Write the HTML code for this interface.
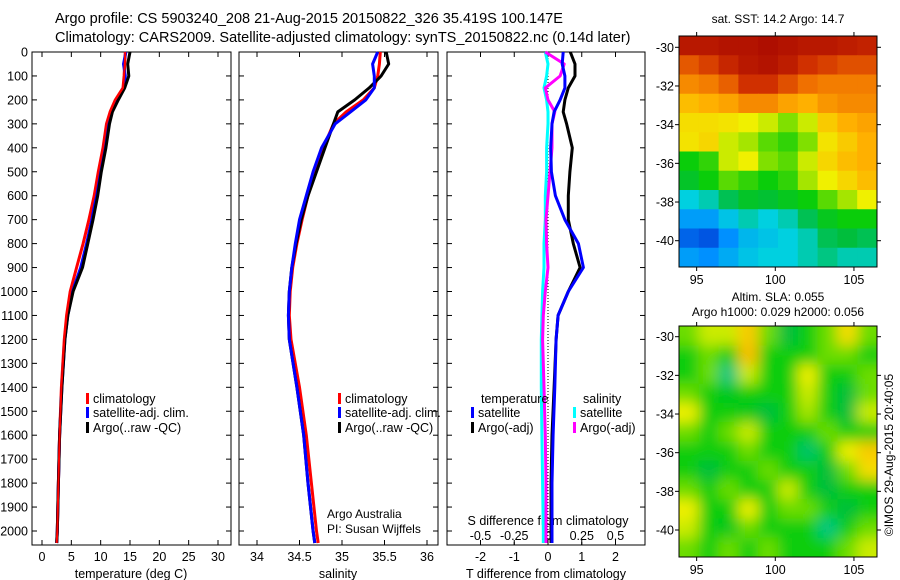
<!DOCTYPE html>
<html><head><meta charset="utf-8"><style>
body{margin:0;background:#fff;}
svg{display:block;font-family:"Liberation Sans",sans-serif;}
</style></head><body>
<svg id="fig" width="900" height="580" viewBox="0 0 900 580" xmlns="http://www.w3.org/2000/svg">
<text x="55" y="23" font-size="14.5">Argo profile: CS 5903240_208 21-Aug-2015 20150822_326 35.419S 100.147E</text>
<text x="55" y="42" font-size="14.5">Climatology: CARS2009. Satellite-adjusted climatology: synTS_20150822.nc (0.14d later)</text>
<text x="778" y="23" font-size="12" text-anchor="middle">sat. SST: 14.2 Argo: 14.7</text>
<text x="778" y="301" font-size="12" text-anchor="middle">Altim. SLA: 0.055</text>
<text x="778" y="316" font-size="12" text-anchor="middle">Argo h1000: 0.029 h2000: 0.056</text>
<text transform="translate(893,455) rotate(-90)" font-size="12" text-anchor="middle">©IMOS 29-Aug-2015 20:40:05</text>
<g id="g"></g>
</svg>
<script>
// ---- data ----
const depths = [0,50,100,150,200,250,300,400,500,600,700,800,900,1000,1100,1200,1400,1600,1800,2000,2050];
const tClim  = [14.2,14.1,14.0,13.8,12.5,11.6,11.0,10.4,9.6,8.9,8.0,7.0,5.9,4.8,4.2,3.8,3.3,3.0,2.8,2.6,2.5];
const tSat   = [14.3,13.9,14.2,13.9,12.8,11.8,11.1,10.5,9.8,9.2,8.5,7.6,6.6,5.2,4.4,3.9,3.4,3.0,2.8,2.6,2.5];
const tArgo  = [15.0,14.6,14.8,14.1,13.0,12.0,11.5,10.9,10.1,9.5,8.7,7.8,6.9,5.3,4.4,3.9,3.4,3.0,2.8,2.6,2.5];
const sClim  = [35.45,35.44,35.42,35.38,35.25,35.05,34.9,34.78,34.68,34.6,34.53,34.47,34.42,34.39,34.38,34.4,34.5,34.58,34.64,34.7,34.72];
const sSat   = [35.42,35.36,35.38,35.38,35.28,35.1,34.92,34.76,34.66,34.58,34.5,34.45,34.41,34.38,34.37,34.38,34.47,34.55,34.6,34.66,34.68];
const sArgo  = [35.52,35.55,35.46,35.32,35.15,34.95,34.9,34.8,34.7,34.6,34.52,34.46,34.41,34.38,34.37,34.38,34.47,34.55,34.6,34.66,34.68];
const dTSat  = [0.45,0.42,0.5,0.5,0.36,0.18,0.12,0.08,0.1,0.22,0.5,0.9,1.05,0.6,0.3,0.24,0.2,0.15,0.12,0.12,0.12];
const dTArgo = [0.66,0.8,0.8,0.6,0.5,0.45,0.55,0.72,0.65,0.6,0.6,0.75,0.95,0.6,0.3,0.24,0.18,0.12,0.09,0.09,0.09];
const dSSat  = [-0.02,0.0,-0.01,-0.03,-0.01,0.0,0.0,-0.01,-0.01,-0.02,-0.02,-0.03,-0.03,-0.04,-0.045,-0.05,-0.05,-0.045,-0.04,-0.035,-0.035];
const dSArgo = [-0.02,0.12,0.09,-0.02,0.0,0.05,0.03,0.03,0.015,0.0,-0.015,-0.01,0.0,-0.02,-0.035,-0.04,-0.03,-0.02,-0.015,-0.015,-0.015];
const depthTicks = [0,100,200,300,400,500,600,700,800,900,1000,1100,1200,1300,1400,1500,1600,1700,1800,1900,2000];
const tTicks = [0,5,10,15,20,25,30];
const sTicks = [34,34.5,35,35.5,36];
const dTTicks = [-2,-1,0,1,2];
const dSTicks = [-0.5,-0.25,0,0.25,0.5];
const dSTickLabels = ["-0.5","-0.25","0","0.25","0.5"];
const latTicks = [-30,-32,-34,-36,-38,-40];
const lonTicks = [95,100,105];
const sstGrid = [
[0.95,0.95,0.96,0.96,0.97,0.96,0.95,0.95,0.94,0.93],
[0.85,0.88,0.92,0.95,0.96,0.94,0.9,0.88,0.86,0.86],
[0.78,0.8,0.84,0.9,0.9,0.86,0.82,0.8,0.8,0.8],
[0.7,0.72,0.74,0.78,0.78,0.74,0.72,0.76,0.78,0.78],
[0.65,0.65,0.64,0.62,0.6,0.56,0.6,0.68,0.72,0.74],
[0.64,0.66,0.6,0.58,0.54,0.52,0.56,0.64,0.68,0.72],
[0.5,0.52,0.6,0.62,0.56,0.54,0.6,0.66,0.7,0.72],
[0.47,0.5,0.54,0.52,0.5,0.52,0.58,0.62,0.66,0.7],
[0.38,0.4,0.44,0.47,0.46,0.48,0.5,0.54,0.58,0.62],
[0.3,0.3,0.36,0.4,0.38,0.4,0.44,0.48,0.5,0.5],
[0.22,0.2,0.28,0.34,0.36,0.38,0.4,0.44,0.45,0.44],
[0.3,0.28,0.32,0.36,0.38,0.38,0.4,0.42,0.4,0.4]];
const slaGrid = [
[0.55,0.6,0.6,0.68,0.55,0.45,0.5,0.55,0.65,0.55],
[0.5,0.55,0.5,0.7,0.5,0.5,0.5,0.55,0.55,0.5],
[0.5,0.55,0.42,0.6,0.5,0.5,0.62,0.5,0.5,0.55],
[0.55,0.5,0.48,0.5,0.5,0.5,0.6,0.5,0.45,0.55],
[0.62,0.5,0.5,0.48,0.45,0.5,0.58,0.5,0.45,0.6],
[0.55,0.5,0.55,0.6,0.5,0.5,0.5,0.55,0.5,0.5],
[0.5,0.5,0.5,0.55,0.5,0.5,0.43,0.5,0.62,0.68],
[0.5,0.45,0.5,0.5,0.55,0.5,0.5,0.45,0.55,0.65],
[0.55,0.5,0.55,0.5,0.5,0.6,0.5,0.45,0.5,0.5],
[0.62,0.5,0.5,0.62,0.5,0.55,0.55,0.5,0.45,0.5],
[0.6,0.5,0.48,0.55,0.5,0.5,0.5,0.42,0.5,0.55],
[0.55,0.5,0.55,0.5,0.55,0.5,0.5,0.5,0.55,0.6]];

// ---- helpers ----
const NS="http://www.w3.org/2000/svg";
const G=document.getElementById('g');
function mk(tag,at,parent){const e=document.createElementNS(NS,tag);for(const k in at)e.setAttribute(k,at[k]);(parent||G).appendChild(e);return e;}
const Y0=52, YS=(531-52)/2000, PT=52, PB=545;
const yD=d=>Y0+d*YS;
const xT=v=>42+v*(218-42)/30;
const xS=v=>257+(v-34)*(427-257)/2;
const xDT=v=>548+v*(614-479)/4;
const xDS=v=>548+v*(614-479)/1;
const panels=[{x0:32,x1:231,name:'temperature-panel'},{x0:239,x1:438,name:'salinity-panel'},{x0:447,x1:645,name:'difference-panel'}];

function frame(p,labels){
  const r=mk('rect',{x:p.x0,y:PT,width:p.x1-p.x0,height:PB-PT,fill:'#fff',stroke:'#000','stroke-width':1});
  
  
  depthTicks.forEach(d=>{
    const y=yD(d);
    mk('line',{x1:p.x0,x2:p.x0+5,y1:y,y2:y,stroke:'#000'});
    mk('line',{x1:p.x1,x2:p.x1-5,y1:y,y2:y,stroke:'#000'});
    if(labels){const t=mk('text',{x:p.x0-4,y:y+4.5,'font-size':12.5,'text-anchor':'end'});t.textContent=d;
      
      }
  });
}
function xticks(ticks,fx,labs,yLab,top){
  ticks.forEach((v,i)=>{const x=fx(v);
    if(!top){mk('line',{x1:x,x2:x,y1:PB,y2:PB-5,stroke:'#000'});mk('line',{x1:x,x2:x,y1:PT,y2:PT+5,stroke:'#000'});}
    const t=mk('text',{x:x,y:yLab,'font-size':12.5,'text-anchor':'middle'});t.textContent=labs?labs[i]:v;
    
    });
}
function line(xs,fx,color,name,w){
  const pts=depths.map((d,i)=>fx(xs[i]).toFixed(1)+','+yD(d).toFixed(1)).join(' ');
  const l=mk('polyline',{points:pts,fill:'none',stroke:color,'stroke-width':w||3,'stroke-linejoin':'round'});
  
  
}
function text(x,y,s,name,size,anchor){const t=mk('text',{x:x,y:y,'font-size':size||12.5,'text-anchor':anchor||'start'});t.textContent=s;
  
  return t;}
function legend(x,y,color,label){mk('rect',{x:x,y:y-10,width:3,height:11,fill:color});
  const t=text(x+7,y,label,'legend-entry',12.5);}

frame(panels[0],true);frame(panels[1],false);frame(panels[2],false);
xticks(tTicks,xT,null,561);xticks(sTicks,xS,null,561);xticks(dTTicks,xDT,null,561);
dSTicks.forEach(v=>{const x=xDS(v);mk('line',{x1:x,x2:x,y1:PB,y2:PB-3,stroke:'#000'});});
xticks(dSTicks,xDS,dSTickLabels,540,true);
text(131,578,'temperature (deg C)','x-axis-title-temperature',12.5,'middle');
text(338,578,'salinity','x-axis-title-salinity',12.5,'middle');
text(546,578,'T difference from climatology','x-axis-title-t-diff',12.5,'middle');
text(548,525,'S difference from climatology','s-diff-axis-title',12.5,'middle');
text(327,518,'Argo Australia','institution-label',12);
text(327,533,'PI: Susan Wijffels','pi-label',12);

// zero dotted line
mk('line',{x1:548,x2:548,y1:PT,y2:PB,stroke:'#000','stroke-dasharray':'1,2'});

line(tClim,xT,'#f00','temperature-climatology-line');
line(tSat,xT,'#00f','temperature-satellite-line');
line(tArgo,xT,'#000','temperature-argo-line');
line(tClim,xT,'#f00','temperature-climatology-line',2);
line(sClim,xS,'#f00','salinity-climatology-line');
line(sArgo,xS,'#000','salinity-argo-line');
line(sSat,xS,'#00f','salinity-satellite-line');
line(dSSat,xDS,'#0ff','s-diff-satellite-line');
line(dSArgo,xDS,'#f0f','s-diff-argo-line');
line(dTArgo,xDT,'#000','t-diff-argo-line');
line(dTSat,xDT,'#00f','t-diff-satellite-line');

legend(86,403,'#f00','climatology');legend(86,417,'#00f','satellite-adj. clim.');legend(86,432,'#000','Argo(..raw -QC)');
legend(338,403,'#f00','climatology');legend(338,417,'#00f','satellite-adj. clim.');legend(338,432,'#000','Argo(..raw -QC)');
text(481,403,'temperature','legend-title-temperature',12.5);
text(583,403,'salinity','legend-title-salinity',12.5);
legend(471,417,'#00f','satellite');legend(471,432,'#000','Argo(-adj)');
legend(573,417,'#0ff','satellite');legend(573,432,'#f0f','Argo(-adj)');

// ---- maps ----
const stops=[[0,[0,0,128]],[0.15,[0,48,208]],[0.28,[0,144,255]],[0.38,[0,208,224]],[0.45,[0,190,60]],[0.5,[10,205,10]],[0.56,[128,224,0]],[0.62,[240,240,0]],[0.72,[255,176,0]],[0.82,[240,112,0]],[0.9,[208,48,0]],[1,[160,0,0]]];
function cmap(v){for(let i=1;i<stops.length;i++){if(v<=stops[i][0]){const a=stops[i-1],b=stops[i],f=(v-a[0])/(b[0]-a[0]);
  const c=a[1].map((q,k)=>Math.round(q+(b[1][k]-q)*f));return 'rgb('+c.join(',')+')';}}return 'rgb(160,0,0)';}
const MX0=679,MX1=877;
const lonX=l=>775.3+(l-100)*(854-696.7)/10;
function drawMap(grid,y0,y1,lat30,lat40,name,blur){
  const latY=la=>lat30+(la+30)*(lat40-lat30)/(-10);
  const defsId=name+'-clip';
  const defs=mk('defs',{});
  const cp=mk('clipPath',{id:defsId},defs);mk('rect',{x:MX0,y:y0,width:MX1-MX0,height:y1-y0},cp);
  if(blur){const f=mk('filter',{id:name+'-blur',x:'-10%',y:'-10%',width:'120%',height:'120%'},defs);mk('feGaussianBlur',{stdDeviation:7},f);}
  const g=mk('g',{'clip-path':'url(#'+defsId+')'});
  const inner=mk('g',blur?{filter:'url(#'+name+'-blur)'}:{},g);
  
  
  const rows=grid.length,cols=grid[0].length,cw=(MX1-MX0)/cols,ch=(y1-y0)/rows;
  mk('rect',{x:MX0-20,y:y0-20,width:MX1-MX0+40,height:y1-y0+40,fill:cmap(0.5)},inner);
  grid.forEach((row,r)=>row.forEach((v,c)=>{
    const ex=blur?(c==0?-20:0):0, ey=blur?(r==0?-20:0):0;
    const cell=mk('rect',{x:MX0+c*cw+ex,y:y0+r*ch+ey,width:cw+0.6-ex+(blur&&c==cols-1?20:0),height:ch+0.6-ey+(blur&&r==rows-1?20:0),fill:cmap(v)},inner);
    
    
  }));
  mk('rect',{x:MX0,y:y0,width:MX1-MX0,height:y1-y0,fill:'none',stroke:'#000'});
  latTicks.forEach(la=>{const y=latY(la);mk('line',{x1:MX0-4,x2:MX0,y1:y,y2:y,stroke:'#000'});mk('line',{x1:MX1,x2:MX1+4,y1:y,y2:y,stroke:'#000'});
    text(MX0-5,y+4.5,String(la),'lat-tick-label',12.5,'end');});
  lonTicks.forEach(lo=>{const x=lonX(lo);mk('line',{x1:x,x2:x,y1:y1,y2:y1+4,stroke:'#000'});mk('line',{x1:x,x2:x,y1:y0-4,y2:y0,stroke:'#000'});
    text(x,y1+17,String(lo),'lon-tick-label',12.5,'middle');});
}
drawMap(sstGrid,36,267,47.3,240.7,'sst-map',false);
drawMap(slaGrid,326,557,336.7,530,'sla-map',true);
// missing-data patches (white) in SST map
[[1,1],[5,3]].forEach(()=>{});
</script>
</body></html>
